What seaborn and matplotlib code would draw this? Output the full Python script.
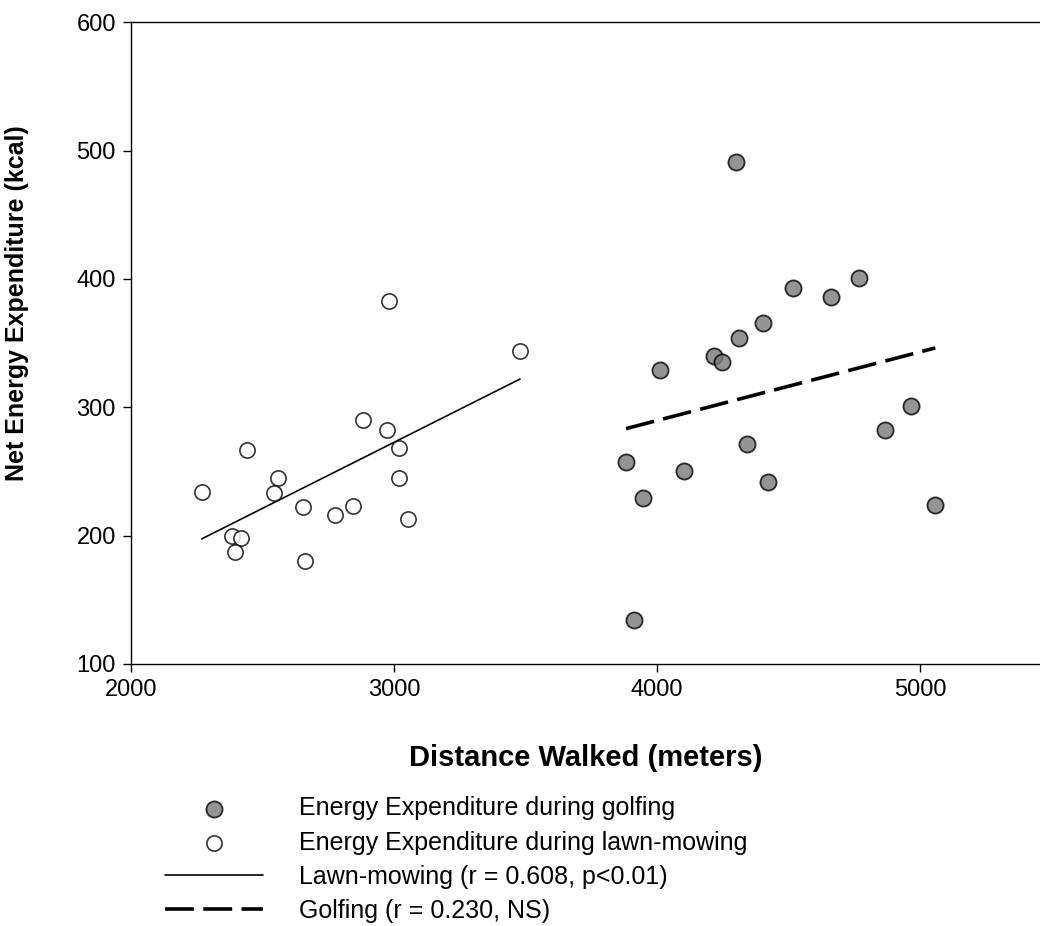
import matplotlib
matplotlib.use('Agg')
import numpy as np
import pandas as pd
import matplotlib.pyplot as plt
import seaborn as sns

sns.set_style('ticks')
plt.rcParams['font.family'] = ['Liberation Sans', 'DejaVu Sans']
plt.rcParams['text.color'] = 'black'
plt.rcParams['axes.labelcolor'] = 'black'

# ─── data ────────────────────────────────────────────────────────────────────
lawn_distance = [2982, 3479, 2883, 2972, 3019, 2442, 2558, 3018, 2269, 2545,
                 2655, 2845, 2776, 3053, 2383, 2418, 2395, 2660]
lawn_energy = [383, 344, 290, 282, 268, 267, 245, 245, 234, 233,
               222, 223, 216, 213, 200, 198, 187, 180]

golf_distance = [4299, 4769, 4518, 4662, 4404, 4313, 4217, 4248, 4011, 4966,
                 4868, 4341, 3882, 4104, 4421, 3948, 5058, 3913]
golf_energy = [491, 401, 393, 386, 366, 354, 340, 335, 329, 301,
               282, 271, 257, 250, 242, 229, 224, 134]

LABEL_GOLF_PTS = 'Energy Expenditure during golfing'
LABEL_LAWN_PTS = 'Energy Expenditure during lawn-mowing'
LABEL_LAWN_FIT = 'Lawn-mowing (r = 0.608, p<0.01)'
LABEL_GOLF_FIT = 'Golfing (r = 0.230, NS)'

df_lawn = pd.DataFrame({'distance': lawn_distance, 'energy': lawn_energy})
df_golf = pd.DataFrame({'distance': golf_distance, 'energy': golf_energy})

fig = plt.figure(figsize=(10.4, 9.26), dpi=100)
ax = fig.add_axes([0.126, 0.283, 0.874, 0.693])

# lawn-mowing: open circles + solid fit
sns.regplot(data=df_lawn, x='distance', y='energy', ci=None, ax=ax,
            scatter_kws={'s': 120, 'facecolor': 'white', 'edgecolor': 'black',
                         'linewidths': 1.2, 'zorder': 3},
            line_kws={'color': 'black', 'lw': 1.2, 'zorder': 2})
lawn_pts, lawn_fit = ax.collections[-1], ax.lines[-1]

# golfing: grey filled circles + dashed fit
sns.regplot(data=df_golf, x='distance', y='energy', ci=None, ax=ax,
            scatter_kws={'s': 135, 'facecolor': '#7a7a7a', 'edgecolor': 'black',
                         'linewidths': 1.3, 'zorder': 3},
            line_kws={'color': 'black', 'lw': 2.6, 'dashes': (8, 2.6),
                      'zorder': 2})
golf_pts, golf_fit = ax.collections[-1], ax.lines[-1]

ax.set_xlim(2000, 5456)
ax.set_ylim(100, 600)
ax.set_xticks([2000, 3000, 4000, 5000])
ax.set_yticks([100, 200, 300, 400, 500, 600])
ax.tick_params(axis='both', direction='out', length=6, width=1.0,
               labelsize=17, colors='black', pad=5)
for s in ['left', 'bottom', 'top']:
    ax.spines[s].set_color('black')
    ax.spines[s].set_linewidth(1.0)
ax.spines['right'].set_visible(False)

ax.set_xlabel('Distance Walked (meters)', fontsize=21, fontweight='bold',
              labelpad=31)
ax.set_ylabel('Net Energy Expenditure (kcal)', fontsize=18, fontweight='bold')
ax.yaxis.set_label_coords(-0.112, 0.562)

fig.legend([golf_pts, lawn_pts, lawn_fit, golf_fit],
           [LABEL_GOLF_PTS, LABEL_LAWN_PTS, LABEL_LAWN_FIT, LABEL_GOLF_FIT],
           loc='upper left', bbox_to_anchor=(0.159, 0.140), frameon=False,
           fontsize=18, handlelength=3.9, handletextpad=1.45, labelspacing=0.41,
           borderaxespad=0, borderpad=0, scatterpoints=1)

fig.savefig('out.png', dpi=100)
